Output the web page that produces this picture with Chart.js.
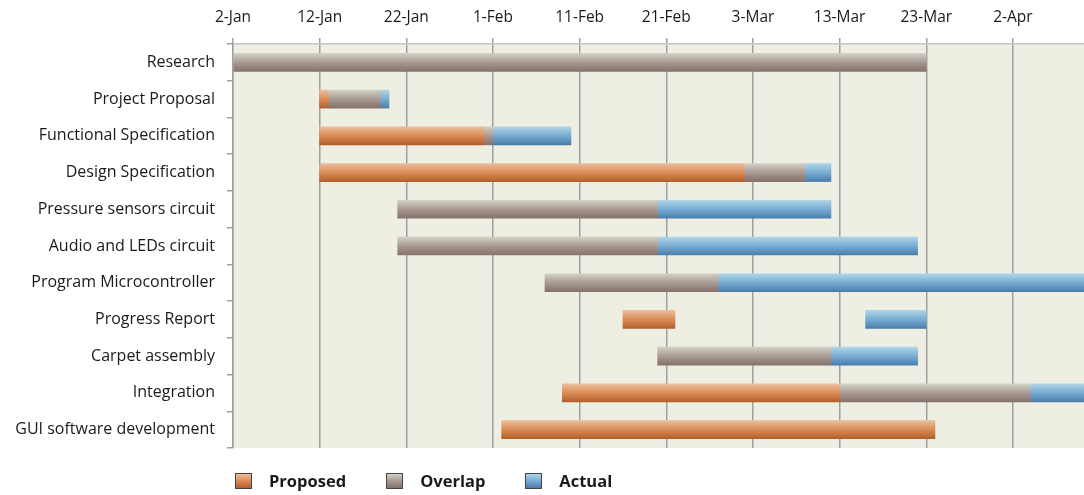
<!DOCTYPE html>
<html>
<head>
<meta charset="utf-8">
<script src="https://cdn.jsdelivr.net/npm/chart.js@4.4.1/dist/chart.umd.min.js"></script>
<style>
    body { margin: 0; background: #ffffff; }
    #wrap { position: relative; width: 1084px; height: 495px; }
    #legend { position: absolute; left: 235px; top: 469px; display: flex; align-items: center; font-family: 'Open Sans', sans-serif; font-weight: bold; font-size: 16.5px; color: #1a1a1a; }
    #legend .item { display: flex; align-items: center; margin-right: 40px; }
    #legend .box { width: 15px; height: 14px; border: 1px solid #444; margin-right: 17px; }
</style>
</head>
<body>
<div id="wrap">
    <canvas id="ganttChart"></canvas>
    <div id="legend"></div>
</div>
<script>
// days counted from 2-Jan
const tasks = ["Research", "Project Proposal", "Functional Specification", "Design Specification",
    "Pressure sensors circuit", "Audio and LEDs circuit", "Program Microcontroller", "Progress Report",
    "Carpet assembly", "Integration", "GUI software development"];
const tickLabels = ["2-Jan", "12-Jan", "22-Jan", "1-Feb", "11-Feb", "21-Feb", "3-Mar", "13-Mar", "23-Mar", "2-Apr"];

const proposed = [null, [10, 11], [10, 29], [10, 59], null, null, null, [45, 51], null, [38, 70], [31, 81]];
const overlap = [[0, 80], [11, 17], [29, 30], [59, 66], [19, 49], [19, 49], [36, 56], null, [49, 69], [70, 92], null];
const actual = [null, [17, 18], [30, 39], [66, 69], [49, 69], [49, 79], [56, 110], [73, 80], [69, 79], [92, 110], null];

const orangeStops = ["#ecbd9c", "#d98c56", "#b45f2c"];
const grayStops = ["#d3d0c6", "#a79a93", "#86726d"];
const blueStops = ["#aed5e8", "#78acd2", "#4a7dab"];

function barFill(stops) {
    return function (ctx) {
        let chart = ctx.chart;
        let yScale = chart.scales.y;
        if (!yScale || ctx.type !== "data") return stops[1];
        let yc = yScale.getPixelForValue(ctx.dataIndex);
        if (!isFinite(yc)) return stops[1];
        let g = chart.ctx.createLinearGradient(0, yc - 9, 0, yc + 9);
        g.addColorStop(0, stops[0]);
        g.addColorStop(0.5, stops[1]);
        g.addColorStop(1, stops[2]);
        return g;
    };
}

let plotBackground = {
    id: "plotBackground",
    beforeDraw: function (chart) {
        let a = chart.chartArea;
        chart.ctx.save();
        chart.ctx.fillStyle = "#eeeee2";
        chart.ctx.fillRect(a.left, a.top, a.right - a.left, a.bottom - a.top);
        chart.ctx.restore();
    }
};

let ganttData = {
    labels: tasks,
    datasets: [
        { label: "Proposed", data: proposed, backgroundColor: barFill(orangeStops), legendStops: orangeStops },
        { label: "Overlap", data: overlap, backgroundColor: barFill(grayStops), legendStops: grayStops },
        { label: "Actual", data: actual, backgroundColor: barFill(blueStops), legendStops: blueStops }
    ]
};

let ganttOptions = {
    indexAxis: "y",
    responsive: true,
    maintainAspectRatio: false,
    animation: false,
    layout: { padding: { top: 0, right: 0, bottom: 47, left: 0 } },
    datasets: { bar: { grouped: false, barThickness: 18, borderSkipped: false } },
    plugins: { legend: { display: false }, tooltip: { enabled: false } },
    scales: {
        x: {
            type: "linear",
            position: "top",
            min: 0,
            max: 98.2,
            afterBuildTicks: function (scale) {
                scale.ticks = tickLabels.map(function (l, i) { return { value: i * 10 }; });
            },
            afterFit: function (scale) { scale.height = 44; },
            ticks: {
                padding: 11,
                color: "#1a1a1a",
                font: { family: "'Open Sans', sans-serif", size: 15.5 },
                maxRotation: 0,
                callback: function (value) { return tickLabels[Math.round(value / 10)]; }
            },
            grid: { color: "#a0a0a0", lineWidth: 1.5, tickLength: 6 },
            border: { color: "#c4c4c4", width: 1.5 }
        },
        y: {
            type: "category",
            afterFit: function (scale) { scale.width = 233; },
            ticks: {
                padding: 12,
                color: "#1a1a1a",
                font: { family: "'Open Sans', sans-serif", size: 16 }
            },
            grid: { drawOnChartArea: false, color: "#a0a0a0", lineWidth: 1.5, tickLength: 6, offset: true },
            border: { color: "#a0a0a0", width: 1.5 }
        }
    }
};

let ctxGantt = document.getElementById("ganttChart").getContext("2d");
let gantt = new Chart(ctxGantt, { type: "bar", data: ganttData, options: ganttOptions, plugins: [plotBackground] });

let htmlLegend = "";
gantt.data.datasets.map(function (ds) {
    let s = ds.legendStops;
    htmlLegend += "<div class='item'>";
    htmlLegend += "   <div class='box' style='background:linear-gradient(" + s[0] + "," + s[1] + "," + s[2] + ")'></div>";
    htmlLegend += "   <span>" + ds.label + "</span>";
    htmlLegend += "</div>";
});
document.getElementById("legend").innerHTML = htmlLegend;
</script>
</body>
</html>
